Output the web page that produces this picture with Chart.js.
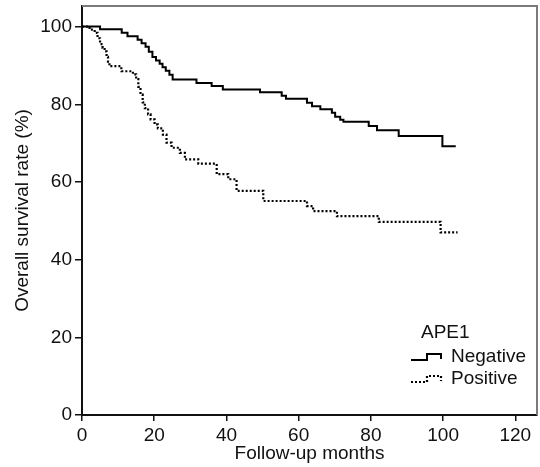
<!DOCTYPE html>
<html>
<head>
<meta charset="utf-8">
<script src="https://cdn.jsdelivr.net/npm/chart.js"></script>
<style>
  html, body { margin: 0; padding: 0; background: #fff; }
  #wrap { width: 540px; height: 467px; }
</style>
</head>
<body>
<div id="wrap"><canvas id="km"></canvas></div>
<script>
// dados (meses, sobrevida %)
const negMonths   = [0, 5, 11, 12.6, 15.4, 16.5, 17.6, 18.5, 19.5, 20.5, 21.5, 22.3, 23.2, 24.2, 25.1, 31.7, 35.9, 39, 49.3, 55.3, 56.5, 62.3, 63.7, 66, 69.2, 70.1, 71.5, 72.4, 79.4, 81.7, 87.7, 99.8, 103.5];
const negSurvival = [100, 99.3, 98.4, 97.5, 96.6, 95.7, 94.8, 93.5, 92.2, 91.3, 90.4, 89.5, 88.6, 87.6, 86.4, 85.5, 84.7, 83.8, 83.1, 82.2, 81.4, 80.4, 79.5, 78.7, 77.8, 76.8, 76.0, 75.5, 74.4, 73.3, 71.8, 69.2, 69.2];

const posMonths   = [0, 2.1, 3.5, 4.3, 5, 5.7, 6.25, 6.8, 7.2, 7.6, 10.9, 14.1, 15, 15.6, 16.2, 16.8, 17.4, 18.3, 19, 20.1, 21, 22.4, 23.4, 24.8, 27.1, 28.5, 32.2, 37.3, 40.5, 42.8, 50.2, 62.3, 64, 70.6, 82.2, 99.3, 104];
const posSurvival = [100, 99.2, 98.4, 97, 95.5, 94.5, 93.6, 92.2, 91, 89.8, 88.5, 87.7, 86.5, 84.5, 82.5, 80.5, 79, 77.4, 76.1, 74.8, 73.8, 72.2, 70.1, 68.8, 67.5, 65.8, 64.7, 62, 60.7, 57.7, 55.1, 53.8, 52.5, 51.2, 49.7, 47, 47];

const seriesNames = ['Negative', 'Positive'];
const legendTitle = 'APE1';
const xTicks = [0, 20, 40, 60, 80, 100, 120];
const yTicks = [0, 20, 40, 60, 80, 100];

function toPoints(xs, ys) {
  return xs.map((x, i) => ({ x: x, y: ys[i] }));
}

const FONT = "'Liberation Sans', Arial, sans-serif";

// MOLDURA CINZA (TOPO E DIREITA) + LEGENDA COM ICONE EM DEGRAU
const framePlugin = {
  id: 'frame',
  afterDraw(chart) {
    const ctx = chart.ctx;
    const a = chart.chartArea;
    ctx.save();
    ctx.strokeStyle = '#7a7a7a';
    ctx.lineWidth = 2;
    ctx.beginPath();
    ctx.moveTo(a.left, a.top);
    ctx.lineTo(a.right, a.top);
    ctx.lineTo(a.right, a.bottom);
    ctx.stroke();

    ctx.fillStyle = '#111';
    ctx.font = '19px ' + FONT;
    ctx.textBaseline = 'middle';
    ctx.textAlign = 'left';
    ctx.fillText(legendTitle, 421, 333);

    const rows = [357, 379];
    chart.data.datasets.forEach((ds, i) => {
      const c = rows[i];
      ctx.strokeStyle = ds.borderColor;
      ctx.lineWidth = ds.borderWidth;
      ctx.setLineDash(ds.borderDash || []);
      ctx.beginPath();
      ctx.moveTo(411, c + 3);
      ctx.lineTo(427, c + 3);
      ctx.lineTo(427, c - 3);
      ctx.lineTo(441, c - 3);
      ctx.lineTo(441, c + 2);
      ctx.stroke();
      ctx.setLineDash([]);
      ctx.fillStyle = '#111';
      ctx.fillText(ds.label, 451, c);
    });
    ctx.restore();
  }
};

new Chart(document.getElementById('km'), {
  type: 'line',
  data: {
    datasets: [
      {
        label: seriesNames[0],
        data: toPoints(negMonths, negSurvival),
        borderColor: '#000',
        borderWidth: 2,
        stepped: true,
        pointRadius: 0,
        fill: false
      },
      {
        label: seriesNames[1],
        data: toPoints(posMonths, posSurvival),
        borderColor: '#000',
        borderWidth: 2.2,
        borderDash: [2, 2],
        stepped: true,
        pointRadius: 0,
        fill: false
      }
    ]
  },
  options: {
    responsive: true,
    maintainAspectRatio: false,
    animation: false,
    layout: { padding: { top: 6, right: 3, left: 0, bottom: 0 } },
    plugins: {
      legend: { display: false },
      tooltip: { enabled: false }
    },
    scales: {
      x: {
        type: 'linear',
        min: 0,
        max: 126,
        afterBuildTicks: s => { s.ticks = xTicks.map(v => ({ value: v })); },
        afterFit: s => { s.height = 52; s.paddingLeft = 0; s.paddingRight = 0; },
        grid: { display: true, drawOnChartArea: false, drawTicks: true, tickLength: 6, color: '#111', lineWidth: 1.5 },
        border: { display: true, color: '#111', width: 2 },
        ticks: { color: '#111', font: { family: FONT, size: 19 }, padding: 3, maxRotation: 0 },
        title: { display: true, text: 'Follow-up months', color: '#111', font: { family: FONT, size: 19 }, padding: { top: 0, bottom: 2 } }
      },
      y: {
        type: 'linear',
        min: 0,
        max: 105.3,
        afterBuildTicks: s => { s.ticks = yTicks.map(v => ({ value: v })); },
        afterFit: s => { s.width = 82; s.paddingTop = 0; s.paddingBottom = 0; },
        grid: { display: true, drawOnChartArea: false, drawTicks: true, tickLength: 7, color: '#111', lineWidth: 1.5 },
        border: { display: true, color: '#111', width: 2 },
        ticks: { color: '#111', font: { family: FONT, size: 19 }, padding: 3 },
        title: { display: true, text: 'Overall survival rate (%)', color: '#111', font: { family: FONT, size: 19 }, padding: { top: 11, bottom: 0 } }
      }
    }
  },
  plugins: [framePlugin]
});
</script>
</body>
</html>
